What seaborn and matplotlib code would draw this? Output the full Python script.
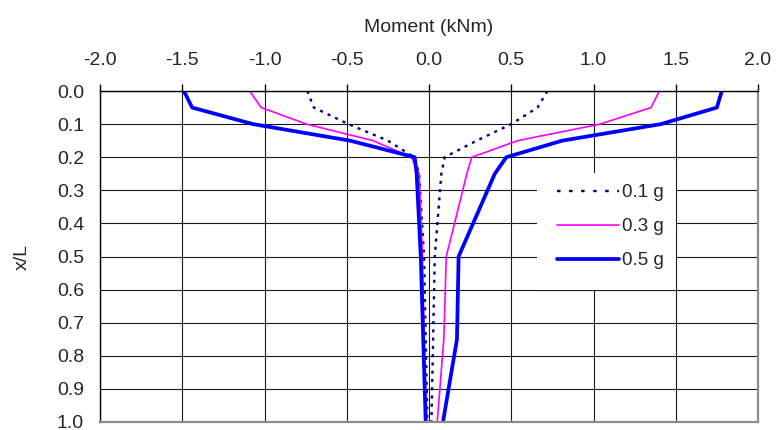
import matplotlib
matplotlib.use("Agg")
import matplotlib.pyplot as plt
from matplotlib.lines import Line2D
from matplotlib.patches import Rectangle
import seaborn as sns
import pandas as pd

# Relative depth along the pile
x_over_l = [0.0, 0.05, 0.10, 0.15, 0.20, 0.25, 0.50, 0.75, 1.00]

# Bending moment envelopes (kNm): minimum and maximum for each shaking level
m_01g_min = [-0.74, -0.70, -0.49, -0.25, -0.09, -0.06, -0.03, -0.02, -0.01]
m_01g_max = [0.72, 0.66, 0.50, 0.29, 0.095, 0.075, 0.035, 0.025, 0.015]
m_03g_min = [-1.09, -1.02, -0.745, -0.34, -0.107, -0.06, -0.04, -0.03, -0.015]
m_03g_max = [1.40, 1.35, 1.04, 0.54, 0.26, 0.23, 0.105, 0.09, 0.05]
m_05g_min = [-1.49, -1.44, -1.07, -0.48, -0.087, -0.075, -0.05, -0.035, -0.02]
m_05g_max = [1.78, 1.75, 1.41, 0.81, 0.47, 0.40, 0.18, 0.17, 0.085]

series_labels = ["0.1 g", "0.3 g", "0.5 g"]
x_ticks = [-2.0, -1.5, -1.0, -0.5, 0.0, 0.5, 1.0, 1.5, 2.0]
y_ticks = [0.0, 0.1, 0.2, 0.3, 0.4, 0.5, 0.6, 0.7, 0.8, 0.9, 1.0]

sns.set_style("white")
plt.rcParams["font.family"] = ["Liberation Sans", "DejaVu Sans"]

fig = plt.figure(figsize=(7.76, 4.30), dpi=100)
ax = fig.add_axes([100 / 776, 1 - 422 / 430, 658 / 776, 331 / 430])

styles = {
    "0.1 g": dict(color="#000080", linewidth=1.7, dashes=(1.3, 2.2)),
    "0.3 g": dict(color="#FF00FF", linewidth=1.2),
    "0.5 g": dict(color="#0000FF", linewidth=2.7),
}
envelopes = {
    "0.1 g": (m_01g_min, m_01g_max),
    "0.3 g": (m_03g_min, m_03g_max),
    "0.5 g": (m_05g_min, m_05g_max),
}

for label in series_labels:
    for branch in envelopes[label]:
        df = pd.DataFrame({"moment": branch, "xl": x_over_l})
        st = dict(styles[label])
        dashes = st.pop("dashes", None)
        line_ax = sns.lineplot(data=df, x="moment", y="xl", sort=False,
                               estimator=None, ax=ax, legend=False, **st)
        if dashes is not None:
            line_ax.lines[-1].set_dashes(dashes)

ax.set_xlim(-2.0, 2.0)
ax.set_ylim(1.0, 0.0)
ax.set_xticks(x_ticks)
ax.set_xticklabels([f"{v:.1f}" for v in x_ticks])
ax.set_yticks(y_ticks)
ax.set_yticklabels([f"{v:.1f}" for v in y_ticks])

ax.xaxis.tick_top()
ax.xaxis.set_label_position("top")
ax.set_xlabel("Moment (kNm)", fontsize=14, labelpad=15)
ax.set_ylabel("x/L", fontsize=14, labelpad=19)
ax.tick_params(axis="both", labelsize=14, length=5, width=1, color="black",
               direction="out")
ax.tick_params(axis="x", pad=10.5)
ax.tick_params(axis="y", pad=6.5)

ax.grid(True, color="#1a1a1a", linewidth=0.8)
ax.set_axisbelow(True)

for side in ("top", "left"):
    ax.spines[side].set_color("black")
    ax.spines[side].set_linewidth(1.0)
for side in ("right", "bottom"):
    ax.spines[side].set_color("#8c8c8c")
    ax.spines[side].set_linewidth(1.6)
for s in ax.spines.values():
    s.set_visible(True)

# White panel behind the legend entries
ax.add_patch(Rectangle((0.664, 0.399), 0.211, 0.353, transform=ax.transAxes,
                       facecolor="white", edgecolor="none", zorder=1.5))

handles = []
for label in series_labels:
    st = dict(styles[label])
    dashes = st.pop("dashes", None)
    h = Line2D([], [], **st)
    if dashes is not None:
        h.set_dashes((1.5, 3.6))
    handles.append(h)

leg = ax.legend(handles, series_labels, loc="upper left",
                bbox_to_anchor=(0.6945, 0.718), fontsize=13.5,
                frameon=False, handlelength=3.3, handletextpad=0.15,
                labelspacing=0.9, borderpad=0.0, borderaxespad=0.0)

fig.savefig("out.png", dpi=100)
